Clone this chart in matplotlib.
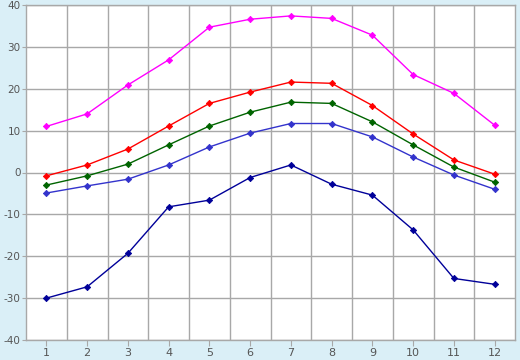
import matplotlib
matplotlib.use("Agg")
import matplotlib.pyplot as plt
import numpy as np

plt.rcParams["axes.unicode_minus"] = False

months = [1, 2, 3, 4, 5, 6, 7, 8, 9, 10, 11, 12]
record_high = [11.0, 14.0, 20.9, 26.9, 34.7, 36.6, 37.4, 36.8, 32.8, 23.4, 18.9, 11.3]
mean_high = [-0.8, 1.8, 5.6, 11.1, 16.5, 19.2, 21.6, 21.3, 16.0, 9.2, 3.0, -0.4]
mean_daily = [-3.0, -0.8, 2.0, 6.6, 11.1, 14.4, 16.8, 16.5, 12.1, 6.6, 1.3, -2.3]
mean_low = [-4.9, -3.2, -1.6, 1.8, 6.1, 9.4, 11.7, 11.7, 8.5, 3.7, -0.6, -4.0]
record_low = [-30.0, -27.3, -19.3, -8.2, -6.6, -1.2, 1.8, -2.8, -5.4, -13.7, -25.3, -26.7]

series = [
    (record_high, "#ff00ff"),
    (mean_high, "#ff0000"),
    (mean_daily, "#006400"),
    (mean_low, "#3333cc"),
    (record_low, "#000099"),
]

bg = "#daeff7"
fig = plt.figure(figsize=(5.2, 3.6), dpi=100, facecolor=bg)
ax = fig.add_axes([26/520, 20/360, 489/520, 335/360])
ax.set_facecolor("white")

for vals, col in series:
    ax.plot(months, vals, color=col, lw=1.0, marker="D", markersize=3.2,
            markeredgewidth=0.6, markeredgecolor=col, markerfacecolor=col, zorder=3)

ax.set_xlim(0.5, 12.5)
ax.set_ylim(-40, 40)
ax.set_xticks(months)
ax.set_xticklabels([str(m) for m in months])
ax.set_xticks(np.arange(1.5, 12.5, 1.0), minor=True)
ax.set_yticks(np.arange(-40, 41, 10))

gridc = "#a8a8a8"
ax.grid(True, which="minor", axis="x", color=gridc, lw=1.0, zorder=1)
ax.grid(True, which="major", axis="y", color=gridc, lw=1.0, zorder=1)
for s in ax.spines.values():
    s.set_color(gridc)
    s.set_linewidth(1.0)

ax.tick_params(axis="x", which="major", length=4, color=gridc, labelsize=8,
               labelcolor="#555555", pad=2)
ax.tick_params(axis="x", which="minor", length=0)
ax.tick_params(axis="y", length=3, color=gridc, labelsize=7.5,
               labelcolor="#555555", pad=1)

fig.savefig("out.png", dpi=100, facecolor=bg)
